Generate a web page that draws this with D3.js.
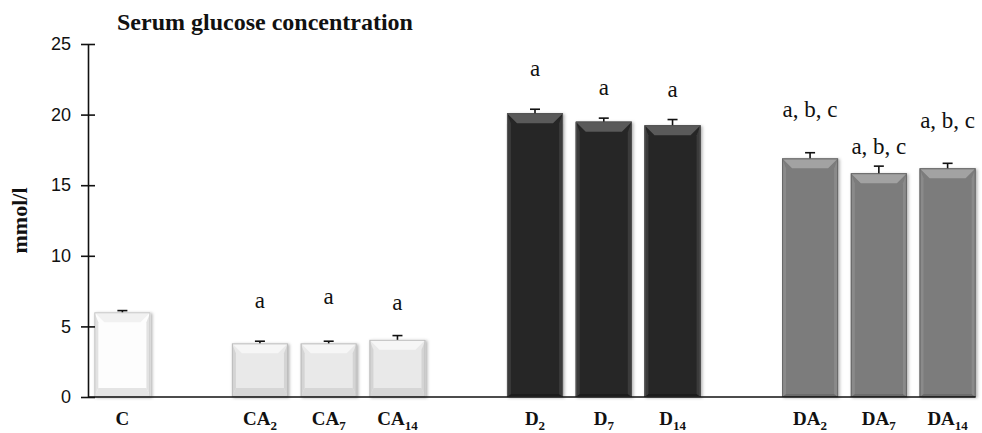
<!DOCTYPE html>
<html lang="en">
<head>
<meta charset="UTF-8">
<script src="https://cdn.jsdelivr.net/npm/d3@7"></script>
<style>
    * { margin: 0; padding: 0; }
    body { background: #fff; }
    svg { display: block; }
    .axis text { font-family: "Liberation Sans", Arial, sans-serif; font-size: 18px; fill: #111; }
    .axis path, .axis line { stroke: #111; stroke-width: 1.6px; }
</style>
<title>Serum glucose concentration</title>
</head>
<body>
<div id="chart"></div>
<script>
    // groups: C | CA2 CA7 CA14 | D2 D7 D14 | DA2 DA7 DA14
    var names   = ["C", "CA2", "CA7", "CA14", "D2", "D7", "D14", "DA2", "DA7", "DA14"];
    var base    = ["C", "CA", "CA", "CA", "D", "D", "D", "DA", "DA", "DA"];
    var subs    = ["", "2", "7", "14", "2", "7", "14", "2", "7", "14"];
    var groups  = ["ctrl", "ca", "ca", "ca", "d", "d", "d", "da", "da", "da"];
    var means   = [6.0, 3.8, 3.8, 4.05, 20.1, 19.5, 19.25, 16.9, 15.85, 16.2];
    var sems    = [0.12, 0.15, 0.15, 0.3, 0.28, 0.25, 0.4, 0.4, 0.5, 0.35];
    var letters = ["", "a", "a", "a", "a", "a", "a", "a, b, c", "a, b, c", "a, b, c"];
    var letterAt = [0, 6.3, 6.6, 6.15, 22.7, 21.4, 21.25, 19.8, 17.2, 19.05];  // baseline in mmol/l
    // empty slots between groups
    var slots = ["C", "_1", "CA2", "CA7", "CA14", "_2", "D2", "D7", "D14", "_3", "DA2", "DA7", "DA14"];
    var yTicks = [0, 5, 10, 15, 20, 25];

    var w = 982, h = 433;

    // look of each group: body, top bevel, bottom bevel, sides
    var looks = {
        ctrl: { body: "#fdfdfd", top: "#f1f1f1", bot: "#e4e4e4", side: "#e2e2e2", edge: "#c8c8c8" },
        ca:   { body: "#e9e9e9", top: "#f6f6f6", bot: "#d6d6d6", side: "#d4d4d4", edge: "#bdbdbd" },
        d:    { body: "#252525", top: "#5a5a5a", bot: "#1c1c1c", side: "#3a3a3a", edge: "#555" },
        da:   { body: "#7b7b7b", top: "#a2a2a2", bot: "#6c6c6c", side: "#8a8a8a", edge: "#666" }
    };

    var xScale = d3.scaleBand()
        .domain(slots)
        .range([88, 982])
        .paddingInner(0.185)
        .paddingOuter(0.0925);

    var yScale = d3.scaleLinear()
        .domain([0, 25])
        .range([397, 44]);

    var svg = d3.select("#chart").append("svg")
        .attr("width", w)
        .attr("height", h);

    var defs = svg.append("defs");
    defs.append("filter").attr("id", "shadow")
        .attr("x", "-10%").attr("y", "-10%").attr("width", "130%").attr("height", "130%")
        .append("feDropShadow")
        .attr("dx", 1.5).attr("dy", 1).attr("stdDeviation", 1.6)
        .attr("flood-color", "#000").attr("flood-opacity", 0.3);

    var data = names.map(function(n, i) {
        return { name: n, group: groups[i], mean: means[i], sem: sems[i], letter: letters[i], at: letterAt[i], base: base[i], sub: subs[i] };
    });

    // bars with a bevel
    var bar = svg.append("g").selectAll("g")
        .data(data)
        .enter().append("g")
        .attr("filter", "url(#shadow)");

    function poly(pts) { return "M" + pts.map(function(p) { return p.join(","); }).join("L") + "Z"; }

    bar.each(function(d) {
        var g = d3.select(this);
        var lk = looks[d.group];
        var x0 = xScale(d.name), x1 = x0 + xScale.bandwidth();
        var y0 = yScale(d.mean), y1 = yScale(0);
        var bt = 10, bb = (d.group == "d" || d.group == "da") ? 3 : 9, bs = 4;
        g.append("rect").attr("x", x0).attr("y", y0).attr("width", x1 - x0).attr("height", y1 - y0)
            .attr("fill", lk.body);
        g.append("path").attr("d", poly([[x0, y1], [x0 + bs, y1 - bb], [x1 - bs, y1 - bb], [x1, y1]])).attr("fill", lk.bot);
        g.append("path").attr("d", poly([[x0, y0], [x0 + bs, y0 + bt], [x0 + bs, y1 - bb], [x0, y1]])).attr("fill", lk.side);
        g.append("path").attr("d", poly([[x1, y0], [x1 - bs, y0 + bt], [x1 - bs, y1 - bb], [x1, y1]])).attr("fill", lk.side);
        g.append("path").attr("d", poly([[x0, y0], [x1, y0], [x1 - bs - 6, y0 + bt], [x0 + bs + 6, y0 + bt]])).attr("fill", lk.top);
        g.append("rect").attr("x", x0 + 0.5).attr("y", y0 + 0.5).attr("width", x1 - x0 - 1).attr("height", y1 - y0 - 1)
            .attr("fill", "none").attr("stroke", lk.edge).attr("stroke-width", 1);
    });

    // error bars (upper half only)
    var err = svg.append("g").selectAll("g")
        .data(data)
        .enter().append("g")
        .attr("stroke", "#111").attr("stroke-width", 1.6);
    err.append("line")
        .attr("x1", function(d) { return xScale(d.name) + xScale.bandwidth() / 2; })
        .attr("x2", function(d) { return xScale(d.name) + xScale.bandwidth() / 2; })
        .attr("y1", function(d) { return yScale(d.mean); })
        .attr("y2", function(d) { return yScale(d.mean + d.sem); });
    err.append("line")
        .attr("x1", function(d) { return xScale(d.name) + xScale.bandwidth() / 2 - 5; })
        .attr("x2", function(d) { return xScale(d.name) + xScale.bandwidth() / 2 + 5; })
        .attr("y1", function(d) { return yScale(d.mean + d.sem); })
        .attr("y2", function(d) { return yScale(d.mean + d.sem); });

    // y axis, ticks cross the line
    var yAxis = d3.axisLeft(yScale).tickValues(yTicks).tickSize(7).tickSizeOuter(0).tickPadding(10);
    svg.append("g")
        .attr("class", "axis")
        .attr("transform", "translate(88,0)")
        .call(yAxis)
        .call(function(g) { g.selectAll(".tick line").attr("x1", 7); });

    // baseline
    svg.append("line")
        .attr("x1", 88).attr("x2", xScale("DA14") + xScale.bandwidth())
        .attr("y1", yScale(0)).attr("y2", yScale(0))
        .attr("stroke", "#111").attr("stroke-width", 1.6);

    // category labels with subscripts
    var lab = svg.append("g").selectAll("text")
        .data(data)
        .enter().append("text")
        .attr("x", function(d) { return xScale(d.name) + xScale.bandwidth() / 2; })
        .attr("y", 425)
        .attr("text-anchor", "middle")
        .attr("font-family", "'Liberation Serif', 'Times New Roman', serif")
        .attr("font-weight", "bold")
        .attr("font-size", "19px")
        .attr("fill", "#111");
    lab.append("tspan").text(function(d) { return d.base; });
    lab.append("tspan")
        .attr("font-size", "13px")
        .attr("dy", 5)
        .text(function(d) { return d.sub; });

    // significance letters
    svg.append("g").selectAll("text")
        .data(data.filter(function(d) { return d.letter; }))
        .enter().append("text")
        .attr("x", function(d) { return xScale(d.name) + xScale.bandwidth() / 2; })
        .attr("y", function(d) { return yScale(d.at); })
        .attr("text-anchor", "middle")
        .attr("font-family", "'Liberation Serif', 'Times New Roman', serif")
        .attr("font-size", "23px")
        .attr("fill", "#111")
        .text(function(d) { return d.letter; });

    // title
    svg.append("text")
        .attr("x", 117).attr("y", 30)
        .attr("font-family", "'Liberation Serif', 'Times New Roman', serif")
        .attr("font-weight", "bold")
        .attr("font-size", "24px")
        .attr("fill", "#111")
        .text("Serum glucose concentration");

    // y label
    svg.append("text")
        .attr("transform", "translate(27," + yScale(12.5) + ") rotate(-90)")
        .attr("text-anchor", "middle")
        .attr("font-family", "'Liberation Serif', 'Times New Roman', serif")
        .attr("font-weight", "bold")
        .attr("font-size", "22px")
        .attr("fill", "#111")
        .text("mmol/l");
</script>
</body>
</html>
